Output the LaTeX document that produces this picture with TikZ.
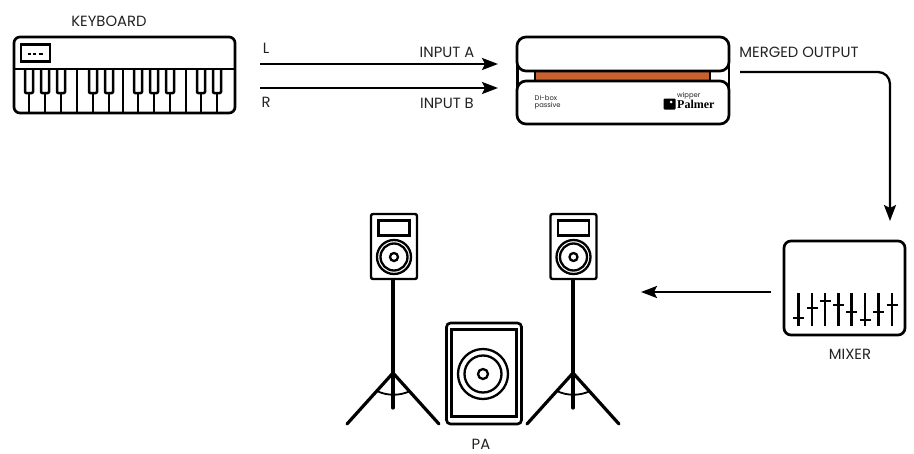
\documentclass[tikz,border=0pt]{standalone}
\usepackage{fontspec}
\usepackage{xcolor}
\setmainfont{Poppins}
\newfontfamily\palmerfont{Liberation Serif}
\usetikzlibrary{arrows.meta}
\definecolor{customorange}{HTML}{C8602F}
\definecolor{customtext}{HTML}{222222}
\tikzset{
    label text/.style = {text = customtext, font = \fontsize{14.8}{15}\selectfont, inner sep = 0pt},
    tiny text/.style = {text = customtext, font = \fontsize{6.8}{7}\selectfont, inner sep = 0pt},
    box/.style = {draw = black, line width = 2.7pt, fill = white, rounded corners = 6pt, inner sep = 0pt, outer sep = 0pt},
    thin box/.style = {draw = black, line width = 2.4pt, fill = white, rounded corners = 2pt, inner sep = 0pt, outer sep = 0pt},
    icon/.style = {draw = black, line width = 2.5pt, line join = round},
    ring/.style = {draw = black, line width = 2.3pt, circle, inner sep = 0pt},
    stand/.style = {draw = black, line width = 3.2pt, line cap = round},
    signal/.style = {draw = black, line width = 2.3pt, -{Stealth[length = 16pt, width = 12pt, inset = 3pt]}}
}

\begin{document}
\begin{tikzpicture}
        \useasboundingbox (0pt, 0pt) rectangle (914pt, -453pt);

        % Keyboard
        \node [box, minimum width = 221pt, minimum height = 76pt] (keyboard) at (124.5pt, -75pt) {};
        \node [thin box, rounded corners = 0pt, line width = 2.5pt, minimum width = 29pt, minimum height = 17pt] (display) at (35.5pt, -53pt) {};
        \node [label text] (keyboardlabel) at (109pt, -21pt) {KEYBOARD};
        \draw [icon, line width = 2pt] (27.5pt, -53.5pt) -- (30.5pt, -53.5pt) (33pt, -53.5pt) -- (36pt, -53.5pt) (38.5pt, -53.5pt) -- (42.5pt, -53.5pt);
        \draw [icon] (keyboard.west |- 0pt, -69pt) -- (keyboard.east |- 0pt, -69pt);

        % Black keys
        \draw [icon, rounded corners = 1pt] (25pt, -69pt) |- (33pt, -93pt) -- (33pt, -69pt);
        \draw [icon, rounded corners = 1pt] (41pt, -69pt) |- (49pt, -93pt) -- (49pt, -69pt);
        \draw [icon, rounded corners = 1pt] (57pt, -69pt) |- (65pt, -93pt) -- (65pt, -69pt);
        \draw [icon, rounded corners = 1pt] (89pt, -69pt) |- (97pt, -93pt) -- (97pt, -69pt);
        \draw [icon, rounded corners = 1pt] (105pt, -69pt) |- (113pt, -93pt) -- (113pt, -69pt);
        \draw [icon, rounded corners = 1pt] (134pt, -69pt) |- (142pt, -93pt) -- (142pt, -69pt);
        \draw [icon, rounded corners = 1pt] (150pt, -69pt) |- (158pt, -93pt) -- (158pt, -69pt);
        \draw [icon, rounded corners = 1pt] (166pt, -69pt) |- (174pt, -93pt) -- (174pt, -69pt);
        \draw [icon, rounded corners = 1pt] (197pt, -69pt) |- (205pt, -93pt) -- (205pt, -69pt);
        \draw [icon, rounded corners = 1pt] (213pt, -69pt) |- (221pt, -93pt) -- (221pt, -69pt);

        % White keys
        \draw [icon] (29pt, -93pt) -- (29pt, -113pt);
        \draw [icon] (45pt, -93pt) -- (45pt, -113pt);
        \draw [icon] (61pt, -93pt) -- (61pt, -113pt);
        \draw [icon] (77pt, -69pt) -- (77pt, -113pt);
        \draw [icon] (93pt, -93pt) -- (93pt, -113pt);
        \draw [icon] (109pt, -93pt) -- (109pt, -113pt);
        \draw [icon] (123pt, -69pt) -- (123pt, -113pt);
        \draw [icon] (138pt, -93pt) -- (138pt, -113pt);
        \draw [icon] (154pt, -93pt) -- (154pt, -113pt);
        \draw [icon] (170pt, -93pt) -- (170pt, -113pt);
        \draw [icon] (186pt, -69pt) -- (186pt, -113pt);
        \draw [icon] (201pt, -93pt) -- (201pt, -113pt);
        \draw [icon] (217pt, -93pt) -- (217pt, -113pt);

        % DI box
        \draw [icon] (517.5pt, -55pt) -- (517.5pt, -100pt);
        \draw [icon] (729pt, -55pt) -- (729pt, -100pt);
        \node [draw = black, line width = 2.2pt, fill = customorange, minimum width = 175pt, minimum height = 11pt, inner sep = 0pt] (orangebar) at (622.5pt, -76pt) {};
        \node [box, rounded corners = 9pt, minimum width = 212pt, minimum height = 34pt] (ditop) at (623pt, -54pt) {};
        \node [box, rounded corners = 9pt, minimum width = 212pt, minimum height = 43pt] (dibottom) at (623pt, -102.5pt) {};
        \node [tiny text, anchor = west] (dilabel) at (534.5pt, -98.5pt) {DI-box};
        \node [tiny text, anchor = west] (passivelabel) at (534.5pt, -105.5pt) {passive};
        \node [tiny text, anchor = west] (wipperlabel) at (677pt, -95.5pt) {wipper};
        \node [anchor = west, inner sep = 0pt, font = \palmerfont\bfseries\fontsize{12}{12}\selectfont] (palmerlabel) at (677pt, -104.5pt) {Palmer};
        \node [fill = black, rounded corners = 1pt, minimum width = 12pt, minimum height = 11pt, inner sep = 0pt] (palmerlogo) at (669.5pt, -104pt) {};
        \node [fill = white, circle, minimum size = 3pt, inner sep = 0pt] (palmerdot) at (671pt, -102pt) {};

        % Mixer
        \node [box, rounded corners = 7pt, minimum width = 121pt, minimum height = 94pt] (mixer) at (844.5pt, -288pt) {};
        \node [label text] (mixerlabel) at (850pt, -354pt) {MIXER};
        \draw [icon] (798.5pt, -293pt) -- (798.5pt, -326pt) (793pt, -318pt) -- (804pt, -318pt);
        \draw [icon] (812pt, -293pt) -- (812pt, -326pt) (806.5pt, -308pt) -- (817.5pt, -308pt);
        \draw [icon] (825pt, -293pt) -- (825pt, -326pt) (819.5pt, -301pt) -- (830.5pt, -301pt);
        \draw [icon] (838.5pt, -293pt) -- (838.5pt, -326pt) (833pt, -305pt) -- (844pt, -305pt);
        \draw [icon] (851.5pt, -293pt) -- (851.5pt, -326pt) (846pt, -312pt) -- (857pt, -312pt);
        \draw [icon] (865pt, -293pt) -- (865pt, -326pt) (859.5pt, -320pt) -- (870.5pt, -320pt);
        \draw [icon] (878.5pt, -293pt) -- (878.5pt, -326pt) (873pt, -312pt) -- (884pt, -312pt);
        \draw [icon] (892pt, -293pt) -- (892pt, -326pt) (886.5pt, -305pt) -- (897.5pt, -305pt);

        % Left speaker
        \draw [stand] (393pt, -279pt) -- (393pt, -408pt);
        \draw [stand] (347pt, -424pt) -- (393pt, -373pt) -- (439pt, -424pt);
        \draw [icon, line width = 1.8pt] (377pt, -391pt) .. controls (387pt, -396pt) and (400pt, -396pt) .. (410pt, -391pt);
        \node [thin box, minimum width = 46pt, minimum height = 65pt] (leftspeaker) at (394pt, -246.5pt) {};
        \node [draw = black, line width = 2.5pt, minimum width = 31pt, minimum height = 15pt, inner sep = 0pt] (leftpanel) at (394pt, -228pt) {};
        \node [ring, minimum size = 34pt] (leftouter) at (394pt, -257pt) {};
        \node [ring, minimum size = 27pt] (leftinner) at (394pt, -257pt) {};
        \node [ring, minimum size = 8pt] (leftcone) at (394pt, -257pt) {};

        % Right speaker
        \draw [stand] (573pt, -279pt) -- (573pt, -408pt);
        \draw [stand] (527pt, -424pt) -- (573pt, -373pt) -- (619pt, -424pt);
        \draw [icon, line width = 1.8pt] (557pt, -391pt) .. controls (567pt, -396pt) and (580pt, -396pt) .. (590pt, -391pt);
        \node [thin box, minimum width = 46pt, minimum height = 65pt] (rightspeaker) at (573.5pt, -246.5pt) {};
        \node [draw = black, line width = 2.5pt, minimum width = 31pt, minimum height = 15pt, inner sep = 0pt] (rightpanel) at (573.5pt, -228pt) {};
        \node [ring, minimum size = 34pt] (rightouter) at (573.5pt, -257pt) {};
        \node [ring, minimum size = 27pt] (rightinner) at (573.5pt, -257pt) {};
        \node [ring, minimum size = 8pt] (rightcone) at (573.5pt, -257pt) {};

        % PA
        \node [thin box, line width = 2.7pt, rounded corners = 4pt, minimum width = 75pt, minimum height = 101pt] (pa) at (484pt, -373.5pt) {};
        \node [draw = black, line width = 2.7pt, minimum width = 65pt, minimum height = 87pt, inner sep = 0pt] (painner) at (484pt, -373pt) {};
        \node [ring, minimum size = 50pt] (paouter) at (483pt, -374pt) {};
        \node [ring, minimum size = 37pt] (painnercircle) at (483pt, -374pt) {};
        \node [ring, minimum size = 10pt] (pacone) at (483pt, -374pt) {};
        \node [label text] (palabel) at (481pt, -444pt) {PA};

        % Signal labels
        \node [label text] (leftlabel) at (266pt, -48pt) {L};
        \node [label text] (rightlabel) at (266pt, -102pt) {R};
        \node [label text] (inputa) at (447pt, -52pt) {INPUT A};
        \node [label text] (inputb) at (447pt, -103pt) {INPUT B};
        \node [label text] (mergedlabel) at (799pt, -52pt) {MERGED OUTPUT};

        % Free line ends
        \coordinate (astart) at (260pt, -64pt);
        \coordinate (aend) at (498pt, -64pt);
        \coordinate (bstart) at (260pt, -88pt);
        \coordinate (bend) at (498pt, -88pt);
        \coordinate (mergedstart) at (740pt, -72pt);
        \coordinate (mixerin) at (890pt, -221pt);
        \coordinate (mixerout) at (771pt, -292pt);
        \coordinate (speakerin) at (641pt, -292pt);

        % Lines
        \draw [signal] (astart) -- (aend);
        \draw [signal] (bstart) -- (bend);
        \draw [signal, rounded corners = 12pt] (mergedstart) -| (mixerin);
        \draw [signal] (mixerout) -- (speakerin);

    \end{tikzpicture}
\end{document}
